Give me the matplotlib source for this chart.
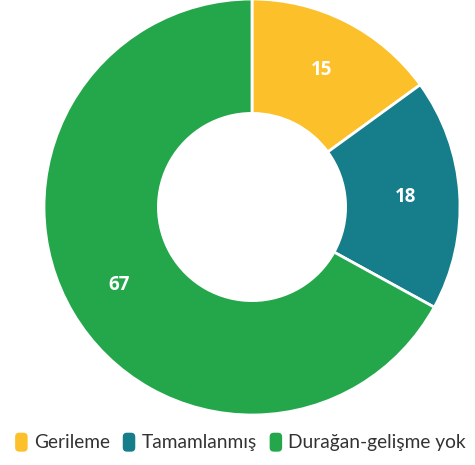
import numpy as np
import matplotlib.pyplot as plt
from matplotlib.patches import FancyBboxPatch
from matplotlib.legend_handler import HandlerPatch

# 数据
labels = ['Gerileme', 'Tamamlanmış', 'Durağan-gelişme yok']
values = [15, 18, 67]
colors = ['#FCC02A', '#167D8A', '#24A74A']

plt.rcParams['font.family'] = ['Lato', 'DejaVu Sans']

fig = plt.figure(figsize=(4.75, 4.65), dpi=100)
ax = fig.add_axes([44 / 475, 50 / 465, 416 / 475, 416 / 465])

wedges, _ = ax.pie(values, colors=colors, startangle=90, counterclock=False,
                   radius=1.0,
                   wedgeprops=dict(width=0.55, edgecolor='white', linewidth=2))

# 环中间的数值标签
total = sum(values)
start = 90.0
for v in values:
    mid = np.deg2rad(start - v / total * 360 / 2)
    r = 0.74
    ax.text(r * np.cos(mid), r * np.sin(mid), str(v), ha='center', va='center',
            color='white', fontsize=13.5, fontweight='bold',
            family=['Open Sans', 'DejaVu Sans'])
    start -= v / total * 360

ax.set_xlim(-1, 1)
ax.set_ylim(-1, 1)
ax.set_aspect('equal')


class RoundHandler(HandlerPatch):
    def create_artists(self, legend, orig_handle, xdescent, ydescent,
                       width, height, fontsize, trans):
        p = FancyBboxPatch((xdescent + 1, ydescent - 3), 9, height + 4,
                           boxstyle='round,pad=0,rounding_size=3',
                           facecolor=orig_handle.get_facecolor(),
                           edgecolor='none', transform=trans)
        return [p]


fig.legend(wedges, labels, loc='center', bbox_to_anchor=(0.505, 1 - 442 / 465),
           ncol=3, frameon=False, fontsize=13.8, handlelength=0.75,
           handletextpad=0.3, columnspacing=0.6, labelcolor='#333333',
           handler_map={w: RoundHandler() for w in wedges})

fig.savefig('out.png', dpi=100)
